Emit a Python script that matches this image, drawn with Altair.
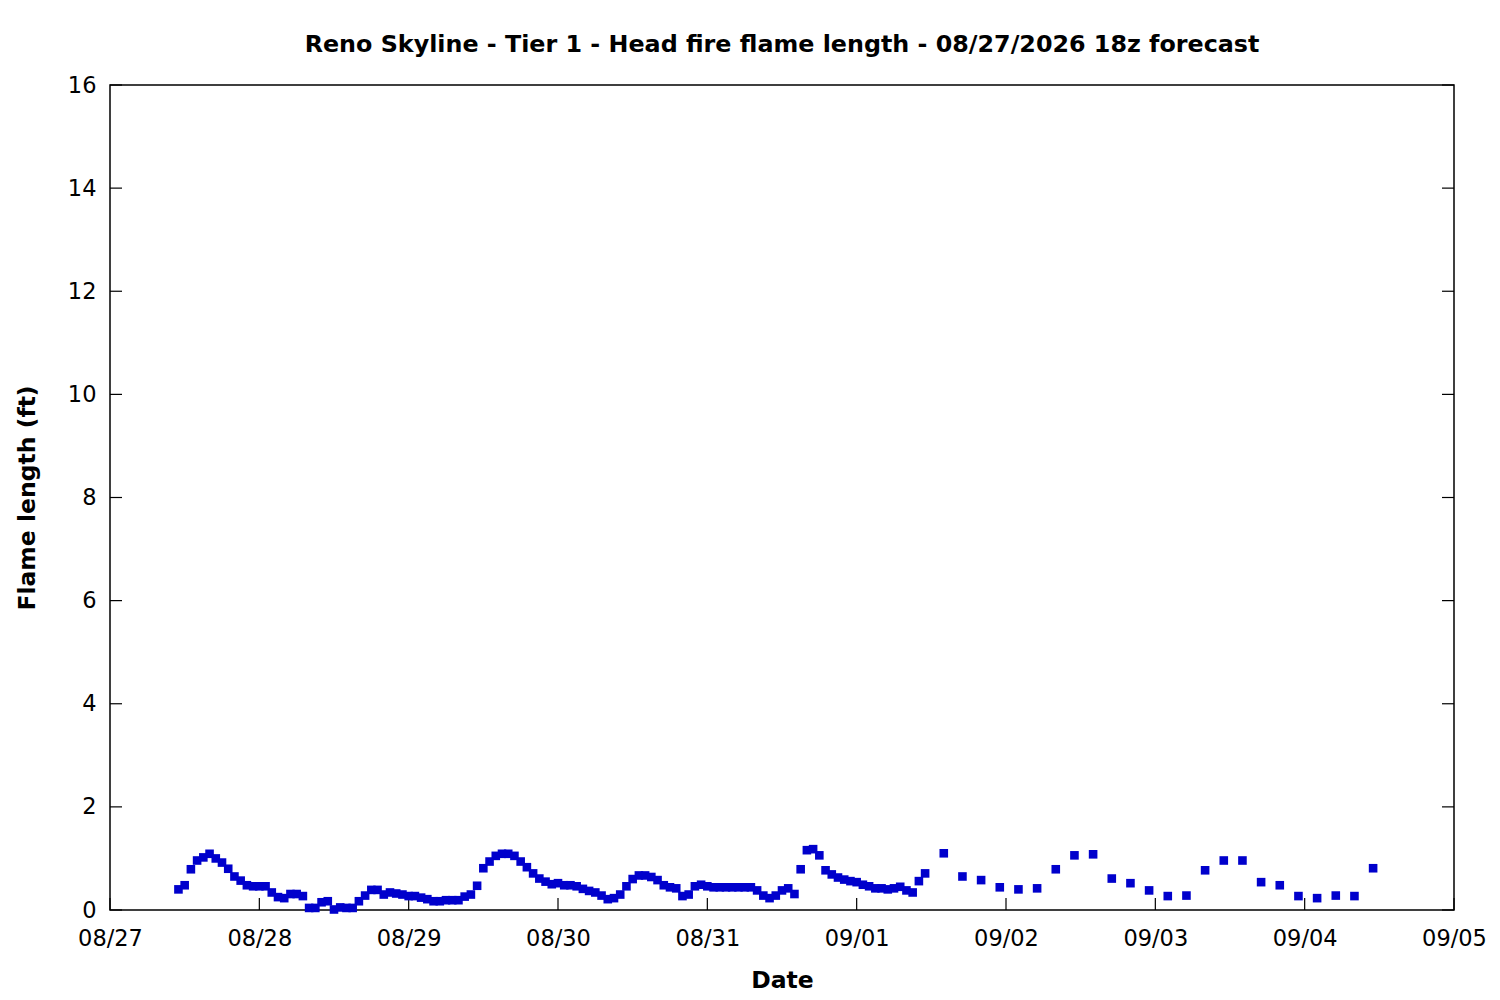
import altair as alt
import pandas as pd

# Hourly flame length (ft), starting 2026-08-27 11:00 (121 values)
hourly_start = "2026-08-27 11:00"
hourly_vals = [
    0.40, 0.48, 0.79, 0.96, 1.02, 1.09, 1.00, 0.92, 0.80, 0.65,
    0.57, 0.48, 0.46, 0.46, 0.46, 0.34, 0.25, 0.23, 0.31, 0.31,
    0.27, 0.04, 0.04, 0.15, 0.17, 0.01, 0.05, 0.04, 0.04, 0.17,
    0.28, 0.39, 0.39, 0.30, 0.34, 0.32, 0.30, 0.27, 0.27, 0.24,
    0.21, 0.17, 0.17, 0.19, 0.19, 0.19, 0.26, 0.30, 0.47, 0.81,
    0.94, 1.05, 1.09, 1.09, 1.05, 0.94, 0.83, 0.71, 0.61, 0.55,
    0.50, 0.52, 0.48, 0.48, 0.46, 0.41, 0.37, 0.34, 0.28, 0.21,
    0.23, 0.30, 0.46, 0.60, 0.67, 0.67, 0.64, 0.58, 0.48, 0.44,
    0.42, 0.27, 0.30, 0.46, 0.49, 0.46, 0.44, 0.44, 0.44, 0.44,
    0.44, 0.44, 0.44, 0.38, 0.28, 0.23, 0.28, 0.38, 0.42, 0.31,
    0.79, 1.16, 1.18, 1.06, 0.77, 0.69, 0.63, 0.59, 0.56, 0.54,
    0.49, 0.46, 0.42, 0.42, 0.40, 0.42, 0.45, 0.38, 0.34, 0.56,
    0.71,
]
# 3-hourly flame length (ft), starting 2026-09-01 14:00 (24 values)
three_hourly_start = "2026-09-01 14:00"
three_hourly_vals = [
    1.10, 0.65, 0.58, 0.44, 0.40, 0.42, 0.79, 1.06, 1.08, 0.61,
    0.52, 0.38, 0.27, 0.28, 0.77, 0.96, 0.96, 0.54, 0.48, 0.27,
    0.23, 0.28, 0.27, 0.81,
]
tick_days = ["2026-08-27", "2026-08-28", "2026-08-29", "2026-08-30", "2026-08-31",
             "2026-09-01", "2026-09-02", "2026-09-03", "2026-09-04", "2026-09-05"]
y_ticks = [0, 2, 4, 6, 8, 10, 12, 14, 16]

title_text = "Reno Skyline - Tier 1 - Head fire flame length - 08/27/2026 18z forecast"

t1 = pd.date_range(hourly_start, periods=len(hourly_vals), freq="h")
t2 = pd.date_range(three_hourly_start, periods=len(three_hourly_vals), freq="3h")
df = pd.DataFrame({
    "time": [t.strftime("%Y-%m-%dT%H:%M:%S") for t in list(t1) + list(t2)],
    "flame": hourly_vals + three_hourly_vals,
})
ticks_x = pd.DataFrame({"day": [d + "T00:00:00" for d in tick_days]})
ticks_y = pd.DataFrame({"v": y_ticks})

W, H = 1344, 825
FONT = "DejaVu Sans"
BLUE = "#0000CC"

def dt(s):
    y, m, d = s.split("-")
    return alt.DateTime(year=int(y), month=int(m), date=int(d))

xscale = alt.Scale(domain=[dt(tick_days[0]), dt(tick_days[-1])], nice=False)
yscale = alt.Scale(domain=[0, 16], nice=False)

points = alt.Chart(df).mark_square(size=74, color=BLUE, opacity=1).encode(
    x=alt.X("time:T", scale=xscale,
            axis=alt.Axis(values=[dt(d) for d in tick_days], format="%m/%d",
                          title="Date", tickSize=0, domain=False, grid=False,
                          labelFontSize=22.5, labelFont=FONT, labelColor="black",
                          labelPadding=17, labelFlush=False,
                          titleFont=FONT, titleFontSize=23.5, titleFontWeight="bold",
                          titleColor="black", titlePadding=19)),
    y=alt.Y("flame:Q", scale=yscale,
            axis=alt.Axis(values=y_ticks, title="Flame length (ft)", tickSize=0,
                          domain=False, grid=False,
                          labelFontSize=22.5, labelFont=FONT, labelColor="black",
                          labelPadding=14, labelFlush=False,
                          titleFont=FONT, titleFontSize=23.5, titleFontWeight="bold",
                          titleColor="black", titlePadding=28)),
)

bottom_ticks = alt.Chart(ticks_x).mark_rule(color="black", strokeWidth=1.2).encode(
    x=alt.X("day:T", scale=xscale),
    y=alt.value(H), y2=alt.value(H - 12),
)
left_ticks = alt.Chart(ticks_y).mark_rule(color="black", strokeWidth=1.2).encode(
    y=alt.Y("v:Q", scale=yscale),
    x=alt.value(0), x2=alt.value(12),
)
right_ticks = alt.Chart(ticks_y).mark_rule(color="black", strokeWidth=1.2).encode(
    y=alt.Y("v:Q", scale=yscale),
    x=alt.value(W - 12), x2=alt.value(W),
)

chart = alt.layer(bottom_ticks, left_ticks, right_ticks, points).properties(
    width=W, height=H,
    title=alt.Title(title_text, font=FONT, fontSize=23.8, fontWeight="bold",
                    color="black", anchor="middle", offset=17),
    autosize=alt.AutoSizeParams(type="none"),
    padding={"left": 102, "top": 77, "right": 38, "bottom": 90},
    background="white",
).configure_view(stroke="black", strokeWidth=1.5)

chart.save("out.html", embed_options={"renderer": "svg", "actions": False})
